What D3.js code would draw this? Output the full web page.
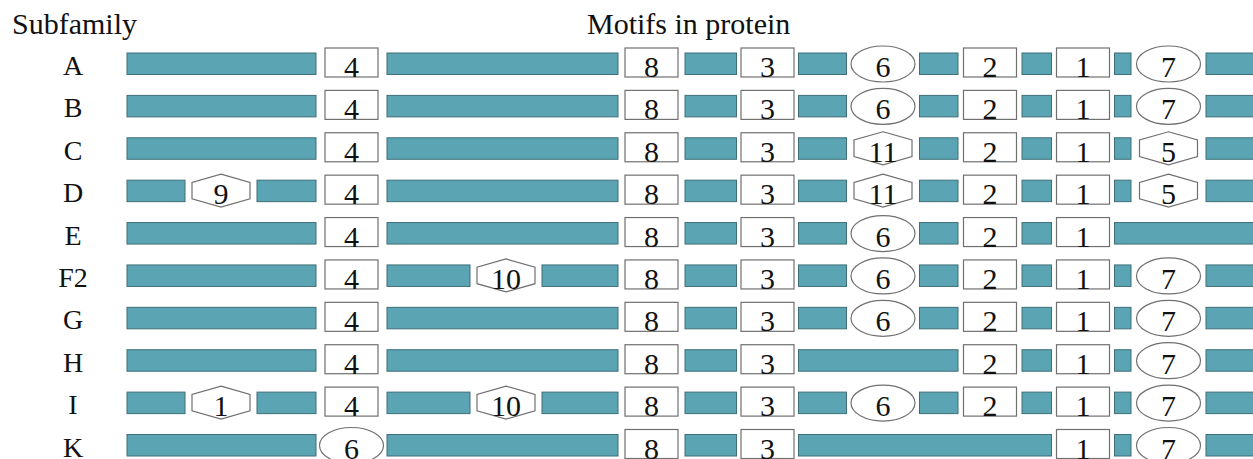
<!DOCTYPE html>
<html>
<head>
<meta charset="utf-8">
<script src="https://cdn.jsdelivr.net/npm/d3@7"></script>
<style>
  body { margin: 0; background: #fff; }
  svg { display: block; }
  text { font-family: "Liberation Serif", "Times New Roman", serif; fill: #111; }
</style>
</head>
<body>
<div id="chart"></div>
<script>
// subfamilies (rows) and motif slots (columns along the protein)
var subfamilies = ["A", "B", "C", "D", "E", "F2", "G", "H", "I", "K"];
var slots = ["N1", "M4", "N2", "M8", "M3", "M6", "M2", "M1", "M7"];

// motif number found in each slot, null = not present
var rowA  = [null, 4, null, 8, 3, 6,    2,    1, 7];
var rowB  = [null, 4, null, 8, 3, 6,    2,    1, 7];
var rowC  = [null, 4, null, 8, 3, 11,   2,    1, 5];
var rowD  = [9,    4, null, 8, 3, 11,   2,    1, 5];
var rowE  = [null, 4, null, 8, 3, 6,    2,    1, null];
var rowF2 = [null, 4, 10,   8, 3, 6,    2,    1, 7];
var rowG  = [null, 4, null, 8, 3, 6,    2,    1, 7];
var rowH  = [null, 4, null, 8, 3, null, 2,    1, 7];
var rowI  = [1,    4, 10,   8, 3, 6,    2,    1, 7];
var rowK  = [null, 6, null, 8, 3, null, null, 1, 7];

var rows = [rowA, rowB, rowC, rowD, rowE, rowF2, rowG, rowH, rowI, rowK];

var ovalMotifs = [6, 7];
var hexMotifs = [5, 9, 10, 11];

var width = 1253, height = 459;
var teal = "#5ba4b3";

var svg = d3.select("#chart").append("svg").attr("width", width).attr("height", height);

//  scales  //
var y = d3.scalePoint().domain(subfamilies).range([63.5, 445]);
var xSlot = d3.scaleOrdinal().domain(slots)
    .range([221, 351.5, 506, 651.5, 767.5, 883, 990, 1083, 1168.5]);
// free space between a motif centre and the neighbouring bar
var clear = d3.scaleOrdinal().domain(slots)
    .range([36, 35.5, 36, 33.5, 31, 36.5, 32, 31.5, 37.5]);
var xStart = 127, xEnd = 1258;

function shapeOf(slot, m) {
    if (slot == "N1" || slot == "N2" || hexMotifs.indexOf(m) >= 0) return "hex";
    if (ovalMotifs.indexOf(m) >= 0) return "oval";
    return "box";
}

//  titles  //
svg.append("text").attr("x", 12).attr("y", 34).style("font-size", "30px").text("Subfamily");
svg.append("text").attr("x", 587).attr("y", 34).style("font-size", "30px").text("Motifs in protein");

rows.forEach(function(row, ri) {
    var name = subfamilies[ri];
    var cy = y(name);
    var g = svg.append("g");

    g.append("text").attr("x", 73).attr("y", cy + 11.5)
        .attr("text-anchor", "middle").style("font-size", "28px").text(name);

    var motifs = [];
    row.forEach(function(m, si) {
        if (m != null) motifs.push({slot: slots[si], motif: m});
    });

    // teal bars fill the gaps between motifs
    var edges = [xStart];
    motifs.forEach(function(d) {
        edges.push(xSlot(d.slot) - clear(d.slot));
        edges.push(xSlot(d.slot) + clear(d.slot));
    });
    edges.push(xEnd);
    var bars = [];
    for (var i = 0; i < edges.length; i += 2) bars.push([edges[i], edges[i + 1]]);

    g.selectAll(".bar").data(bars).enter().append("rect")
        .attr("x", function(d) { return d[0]; })
        .attr("y", cy - 10.5)
        .attr("width", function(d) { return d[1] - d[0]; })
        .attr("height", 21.5)
        .attr("fill", teal).attr("stroke", "#3f6f78").attr("stroke-width", 1);

    // motif shapes
    motifs.forEach(function(d) {
        var cx = xSlot(d.slot);
        var shape = shapeOf(d.slot, d.motif);
        if (shape == "box") {
            g.append("rect").attr("x", cx - 26.5).attr("y", cy - 15.5)
                .attr("width", 53).attr("height", 29)
                .attr("fill", "#fff").attr("stroke", "#707070").attr("stroke-width", 1.2);
        } else if (shape == "oval") {
            g.append("ellipse").attr("cx", cx).attr("cy", cy + 0.5)
                .attr("rx", 32).attr("ry", 18)
                .attr("fill", "#fff").attr("stroke", "#707070").attr("stroke-width", 1.2);
        } else {
            var w = 29, h = 16.5;
            var pts = [[cx, cy - h], [cx + w, cy - h * 0.5], [cx + w, cy + h * 0.5],
                       [cx, cy + h], [cx - w, cy + h * 0.5], [cx - w, cy - h * 0.5]];
            g.append("polygon").attr("points", pts.map(function(p) { return p.join(","); }).join(" "))
                .attr("fill", "#fff").attr("stroke", "#707070").attr("stroke-width", 1.2);
        }
        g.append("text").attr("x", cx).attr("y", cy + 13.5)
            .attr("text-anchor", "middle").style("font-size", "30px").text(d.motif);
    });
});
</script>
</body>
</html>
